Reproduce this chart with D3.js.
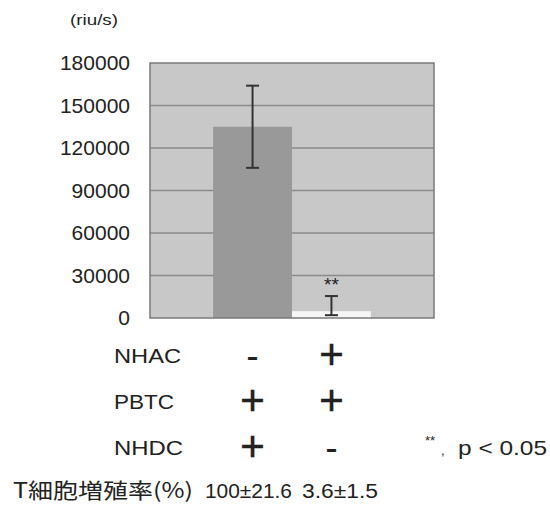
<!DOCTYPE html>
<html>
<head>
<meta charset="utf-8">
<script src="https://cdn.jsdelivr.net/npm/d3@7/dist/d3.min.js"></script>
<style>
  html, body { margin: 0; padding: 0; background: #fff; }
  svg { display: block; }
  text { font-family: "Liberation Sans", Arial, sans-serif; fill: #222; }
</style>
</head>
<body>
<div id="chart"></div>
<script>
// Groups and measured proliferation (riu/s)
const groups = ["g1", "g2"];
const values = [135000, 4800];
const errUpper = [164000, 15500];
const errLower = [106000, 2000];
const barColors = ["#999999", "#f6f6f6"];
const yTicks = [0, 30000, 60000, 90000, 120000, 150000, 180000];

// Condition table below the chart
const conditionNames = ["NHAC", "PBTC", "NHDC"];
const conditionSigns = [["-", "+"], ["+", "+"], ["+", "-"]];
const rateLabel = "T細胞増殖率(%)";
const rateValues = ["100±21.6", "3.6±1.5"];
const significance = ["", "**"];
const unitLabel = "(riu/s)";
const noteStars = "**";
const noteLabel = "p < 0.05";

const W = 550, H = 511;
const plot = { left: 150, top: 63, right: 434, bottom: 318 };

const svg = d3.select("#chart").append("svg").attr("width", W).attr("height", H);

const x = d3.scaleBand().domain(groups)
  .range([plot.left, plot.right]).paddingInner(0).paddingOuter(0.8);
const y = d3.scaleLinear().domain([0, 180000]).range([plot.bottom, plot.top]);
const cx = g => x(g) + x.bandwidth() / 2;

// plot background
svg.append("rect")
  .attr("x", plot.left).attr("y", plot.top)
  .attr("width", plot.right - plot.left).attr("height", plot.bottom - plot.top)
  .attr("fill", "#c8c8c8");

// horizontal gridlines
svg.append("g").selectAll("line").data(yTicks.filter(d => d > 0 && d < 180000)).join("line")
  .attr("x1", plot.left).attr("x2", plot.right)
  .attr("y1", d => y(d)).attr("y2", d => y(d))
  .attr("stroke", "#8a8a8a").attr("stroke-width", 1.3);

// y axis labels
const yAxis = d3.axisLeft(y).tickValues(yTicks).tickSize(0).tickPadding(20)
  .tickFormat(d3.format("d"));
const ya = svg.append("g").attr("transform", `translate(${plot.left},0)`).call(yAxis);
ya.select(".domain").remove();
ya.selectAll("text")
  .style("font-family", "'Liberation Sans', Arial, sans-serif")
  .style("font-size", "21px").attr("fill", "#222");

// bars
svg.append("g").selectAll("rect").data(groups).join("rect")
  .attr("x", d => x(d)).attr("width", x.bandwidth())
  .attr("y", (d, i) => y(values[i]))
  .attr("height", (d, i) => y(0) - y(values[i]))
  .attr("fill", (d, i) => barColors[i]);

// error bars and significance marks
const eb = svg.append("g").attr("stroke", "#333").attr("stroke-width", 2);
groups.forEach((g, i) => {
  const c = cx(g);
  eb.append("line").attr("x1", c).attr("x2", c)
    .attr("y1", y(errUpper[i])).attr("y2", y(errLower[i]));
  [errUpper[i], errLower[i]].forEach(v => {
    eb.append("line").attr("x1", c - 6.5).attr("x2", c + 6.5)
      .attr("y1", y(v)).attr("y2", y(v));
  });
  if (significance[i]) {
    svg.append("text").attr("x", c).attr("y", y(errUpper[i]) - 5)
      .attr("text-anchor", "middle").style("font-size", "19px").attr("fill", "#444")
      .text(significance[i]);
  }
});

// plot border
svg.append("rect")
  .attr("x", plot.left).attr("y", plot.top)
  .attr("width", plot.right - plot.left).attr("height", plot.bottom - plot.top)
  .attr("fill", "none").attr("stroke", "#7a7a7a").attr("stroke-width", 1.5);

// text stretched to a fixed width
function fitText(xPos, yPos, str, size, width, family) {
  const t = svg.append("text").attr("x", xPos).attr("y", yPos)
    .style("font-size", size + "px")
    .attr("textLength", width).attr("lengthAdjust", "spacingAndGlyphs")
    .text(str);
  if (family) t.style("font-family", family);
  return t;
}

// unit label
fitText(70, 25, unitLabel, 14, 48);

// condition table
const rowY = [363, 409, 455];
const labelWidths = [67, 60, 69];
conditionNames.forEach((name, r) => {
  fitText(114, rowY[r], name, 21, labelWidths[r]);
  groups.forEach((g, i) => {
    const s = conditionSigns[r][i];
    svg.append("text").attr("x", cx(g)).attr("y", rowY[r] + (s === "+" ? 6 : 5))
      .attr("text-anchor", "middle")
      .style("font-size", s === "+" ? "42px" : "36px")
      .style("stroke", "#1a1a1a").style("stroke-width", s === "+" ? 0.5 : 0.2)
      .attr("fill", "#1a1a1a")
      .text(s);
  });
});

// significance note
svg.append("text").attr("x", 425).attr("y", 445).style("font-size", "13px")
  .attr("fill", "#333").text(noteStars);
svg.append("text").attr("x", 441).attr("y", 455).style("font-size", "13px")
  .attr("fill", "#333").text(",");
fitText(458, 455, noteLabel, 21, 89);

// proliferation rate row
fitText(13, 498, rateLabel, 21, 180, "'Noto Sans CJK JP', sans-serif");
const rateX = [205, 302], rateW = [87, 76];
rateValues.forEach((t, i) => fitText(rateX[i], 498, t, 20, rateW[i]));
</script>
</body>
</html>
